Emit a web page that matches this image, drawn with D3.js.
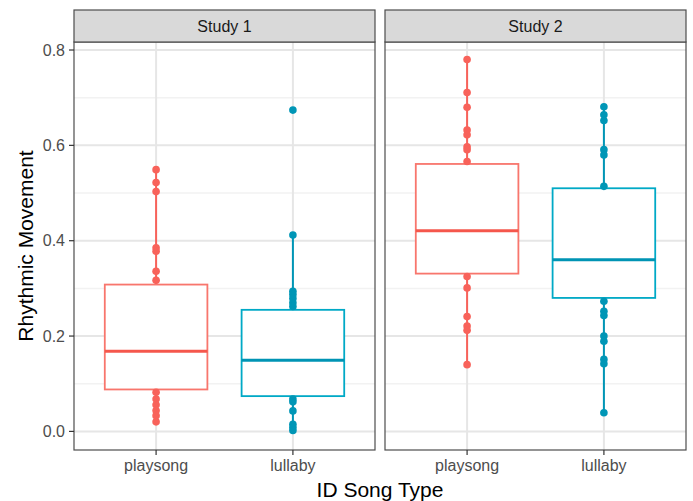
<!DOCTYPE html>
<html lang="en">
<head>
<meta charset="utf-8">
<title>Rhythmic Movement by ID Song Type</title>
<script src="https://d3js.org/d3.v7.min.js"></script>
<style>
body {
    margin: 0;
    background-color: #ffffff;
    font-family: "Liberation Sans", Arial, sans-serif;
}
.tick-label { fill: #4d4d4d; font-size: 16px; }
.axis-title { fill: #000000; font-size: 21px; }
.strip-text { fill: #1a1a1a; font-size: 16px; }
</style>
</head>
<body>
<svg width="693" height="501"></svg>
<script>

var studies = ["Study 1", "Study 2"];
var songTypes = ["playsong", "lullaby"];
var yTicks = [0.0, 0.2, 0.4, 0.6, 0.8];

// box stats per study, in songTypes order: [lower whisker, q1, median, q3, upper whisker]
var study1Boxes = [
  [0.018, 0.088, 0.168, 0.308, 0.549],
  [0.002, 0.074, 0.149, 0.255, 0.412]
];
var study2Boxes = [
  [0.140, 0.331, 0.421, 0.561, 0.780],
  [0.039, 0.280, 0.360, 0.510, 0.681]
];

// individual points visible outside the boxes
var study1Playsong = [0.549, 0.522, 0.503, 0.385, 0.378, 0.336, 0.317, 0.082, 0.068, 0.056, 0.044, 0.033, 0.020];
var study1Lullaby = [0.674, 0.412, 0.294, 0.287, 0.279, 0.270, 0.262, 0.068, 0.062, 0.043, 0.015, 0.008, 0.002];
var study2Playsong = [0.780, 0.711, 0.680, 0.632, 0.622, 0.597, 0.591, 0.566, 0.325, 0.301, 0.241, 0.221, 0.212, 0.140];
var study2Lullaby = [0.681, 0.664, 0.652, 0.591, 0.580, 0.514, 0.273, 0.252, 0.243, 0.200, 0.189, 0.151, 0.142, 0.039];

var panels = [
  {name: studies[0], boxes: study1Boxes, points: [study1Playsong, study1Lullaby]},
  {name: studies[1], boxes: study2Boxes, points: [study2Playsong, study2Lullaby]}
];

var boxColor = ["#f8766d", "#00a9c6"];
var medianColor = ["#f5574c", "#0094b4"];
var pointColor = ["#f8625a", "#0096b6"];

var svg = d3.select("svg");

var panelTop = 42, panelBottom = 450, stripTop = 10;
var panelX = [74, 385], panelW = 301;

var y = d3.scaleLinear()
    .domain([-0.039, 0.8168])
    .range([panelBottom, panelTop]);

// ggplot-style discrete expansion of 0.6 on each side
var x = d3.scalePoint()
    .domain(songTypes)
    .range([0, panelW])
    .padding(0.6);

panels.forEach(function(p, pi) {
  var g = svg.append("g").attr("transform", "translate(" + panelX[pi] + ",0)");

  // minor gridlines
  d3.range(0.1, 0.8, 0.2).forEach(function(v) {
    g.append("line").attr("x1", 0).attr("x2", panelW)
      .attr("y1", y(v)).attr("y2", y(v))
      .attr("stroke", "#f2f2f2").attr("stroke-width", 1.5);
  });
  // major gridlines
  yTicks.forEach(function(v) {
    g.append("line").attr("x1", 0).attr("x2", panelW)
      .attr("y1", y(v)).attr("y2", y(v))
      .attr("stroke", "#e6e6e6").attr("stroke-width", 2);
  });
  songTypes.forEach(function(s) {
    g.append("line").attr("x1", x(s)).attr("x2", x(s))
      .attr("y1", panelTop).attr("y2", panelBottom)
      .attr("stroke", "#e6e6e6").attr("stroke-width", 2);
  });

  var bw = x.step() * 0.75;

  songTypes.forEach(function(s, si) {
    var b = p.boxes[si], cx = x(s);
    // whiskers
    g.append("line").attr("x1", cx).attr("x2", cx)
      .attr("y1", y(b[3])).attr("y2", y(b[4]))
      .attr("stroke", pointColor[si]).attr("stroke-width", 2);
    g.append("line").attr("x1", cx).attr("x2", cx)
      .attr("y1", y(b[1])).attr("y2", y(b[0]))
      .attr("stroke", pointColor[si]).attr("stroke-width", 2);
    // box
    g.append("rect")
      .attr("x", cx - bw / 2).attr("width", bw)
      .attr("y", y(b[3])).attr("height", y(b[1]) - y(b[3]))
      .attr("fill", "#ffffff")
      .attr("stroke", boxColor[si]).attr("stroke-width", 1.8);
    g.append("line")
      .attr("x1", cx - bw / 2).attr("x2", cx + bw / 2)
      .attr("y1", y(b[2])).attr("y2", y(b[2]))
      .attr("stroke", medianColor[si]).attr("stroke-width", 3);
    // points
    g.selectAll(null).data(p.points[si]).enter().append("circle")
      .attr("cx", cx).attr("cy", function(d) { return y(d); })
      .attr("r", 3.8)
      .attr("fill", pointColor[si]);
  });

  // panel border
  g.append("rect").attr("x", 0).attr("y", panelTop)
    .attr("width", panelW).attr("height", panelBottom - panelTop)
    .attr("fill", "none").attr("stroke", "#4d4d4d").attr("stroke-width", 1.2);

  // strip
  g.append("rect").attr("x", 0).attr("y", stripTop)
    .attr("width", panelW).attr("height", panelTop - stripTop)
    .attr("fill", "#d9d9d9").attr("stroke", "#4d4d4d").attr("stroke-width", 1.2);
  g.append("text").attr("class", "strip-text")
    .attr("x", panelW / 2).attr("y", 32)
    .attr("text-anchor", "middle").text(p.name);

  // x axis ticks
  songTypes.forEach(function(s) {
    g.append("line").attr("x1", x(s)).attr("x2", x(s))
      .attr("y1", panelBottom).attr("y2", panelBottom + 5)
      .attr("stroke", "#333").attr("stroke-width", 1.2);
    g.append("text").attr("class", "tick-label")
      .attr("x", x(s)).attr("y", panelBottom + 21)
      .attr("text-anchor", "middle").text(s);
  });
});

// y axis
yTicks.forEach(function(v) {
  svg.append("line").attr("x1", panelX[0] - 5).attr("x2", panelX[0])
    .attr("y1", y(v)).attr("y2", y(v))
    .attr("stroke", "#333").attr("stroke-width", 1.2);
  svg.append("text").attr("class", "tick-label")
    .attr("x", panelX[0] - 9).attr("y", y(v) + 5.5)
    .attr("text-anchor", "end").text(d3.format(".1f")(v));
});

svg.append("text").attr("class", "axis-title")
  .attr("transform", "translate(33," + (panelTop + panelBottom) / 2 + ") rotate(-90)")
  .attr("text-anchor", "middle").text("Rhythmic Movement");

svg.append("text").attr("class", "axis-title")
  .attr("x", (panelX[0] + panelX[1] + panelW) / 2).attr("y", 497)
  .attr("text-anchor", "middle").text("ID Song Type");

</script>
</body>
</html>
